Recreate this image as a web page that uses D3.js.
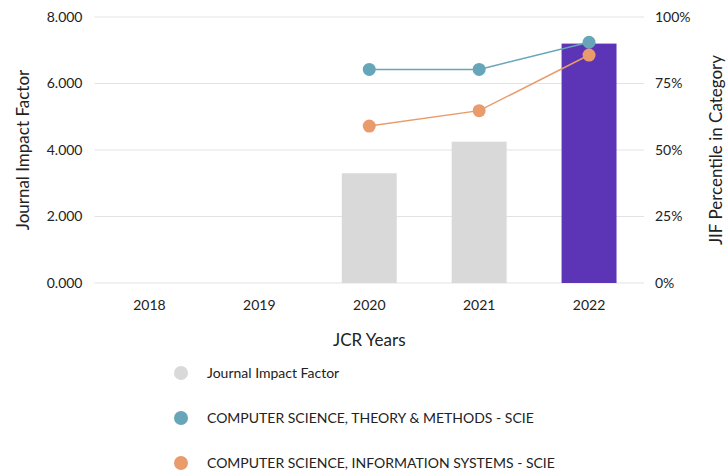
<!DOCTYPE html>
<html>
<head>
<meta charset="utf-8">
<script src="https://cdn.jsdelivr.net/npm/d3@7"></script>
<style>
  body { margin: 0; background: #fff; }
  text { font-family: "Source Sans Pro", Lato, "Open Sans", sans-serif; fill: #222; }
</style>
</head>
<body>
<div id="chart"></div>
<script>
var years = ["2018", "2019", "2020", "2021", "2022"];
var jif = [null, null, 3.3, 4.25, 7.2];
var theoryPct = [null, null, 80.3, 80.3, 90.5];
var infoSysPct = [null, null, 59.0, 64.8, 85.7];
var jifTicks = [0, 2, 4, 6, 8];
var pctTicks = [0, 25, 50, 75, 100];
var legendLabels = [
  "Journal Impact Factor",
  "COMPUTER SCIENCE, THEORY & METHODS - SCIE",
  "COMPUTER SCIENCE, INFORMATION SYSTEMS - SCIE"
];

var W = 728, H = 474;
var margin = { top: 17, right: 84, bottom: 191, left: 94.5 };
var width = W - margin.left - margin.right,
  height = H - margin.top - margin.bottom;

var colors = { bar: "#d9d9d9", last: "#5b35b5", theory: "#66a6b8", info: "#e99b6b" };

var svg = d3.select("#chart").append("svg")
  .attr("width", W).attr("height", H);
var g = svg.append("g")
  .attr("transform", "translate(" + margin.left + "," + margin.top + ")");

var x = d3.scaleBand().domain(years).range([0, width])
  .paddingInner(0.5).paddingOuter(0.25);
var y = d3.scaleLinear().domain([0, 8]).range([height, 0]);
var y2 = d3.scaleLinear().domain([0, 100]).range([height, 0]);

// grid
g.selectAll(".grid").data(jifTicks).enter().append("line")
  .attr("x1", 0).attr("x2", width)
  .attr("y1", function (d) { return y(d); })
  .attr("y2", function (d) { return y(d); })
  .attr("stroke", "#e3e3e3").attr("stroke-width", 1);

// left axis
var left = g.append("g")
  .call(d3.axisLeft(y).tickValues(jifTicks).tickSize(0).tickPadding(12)
    .tickFormat(function (d) { return d3.format(".3f")(d); }));
left.select(".domain").remove();
left.selectAll("text").style("font-size", "14px").attr("fill", "#222");

// right axis
var right = g.append("g")
  .attr("transform", "translate(" + width + ",0)")
  .call(d3.axisRight(y2).tickValues(pctTicks).tickSize(0).tickPadding(11)
    .tickFormat(function (d) { return d + "%"; }));
right.select(".domain").remove();
right.selectAll("text").style("font-size", "14px").attr("fill", "#222");

// bottom axis
var bottom = g.append("g")
  .attr("transform", "translate(0," + height + ")")
  .call(d3.axisBottom(x).tickSize(0).tickPadding(17));
bottom.select(".domain").remove();
bottom.selectAll("text").style("font-size", "14px").attr("fill", "#222");

// bars
var barData = years.map(function (d, i) { return { year: d, v: jif[i] }; })
  .filter(function (d) { return d.v != null; });
g.selectAll(".bar").data(barData).enter().append("rect")
  .attr("x", function (d) { return x(d.year); })
  .attr("y", function (d) { return y(d.v); })
  .attr("width", x.bandwidth())
  .attr("height", function (d) { return height - y(d.v); })
  .attr("fill", function (d, i) { return i === barData.length - 1 ? colors.last : colors.bar; });

// lines
function drawSeries(vals, color) {
  var pts = years.map(function (d, i) { return { year: d, v: vals[i] }; })
    .filter(function (d) { return d.v != null; });
  var line = d3.line()
    .x(function (d) { return x(d.year) + x.bandwidth() / 2; })
    .y(function (d) { return y2(d.v); });
  g.append("path").datum(pts)
    .attr("d", line).attr("fill", "none")
    .attr("stroke", color).attr("stroke-width", 1.5);
  g.selectAll(null).data(pts).enter().append("circle")
    .attr("cx", function (d) { return x(d.year) + x.bandwidth() / 2; })
    .attr("cy", function (d) { return y2(d.v); })
    .attr("r", 6.5).attr("fill", color);
}
drawSeries(theoryPct, colors.theory);
drawSeries(infoSysPct, colors.info);

// axis titles
svg.append("text")
  .attr("transform", "translate(29," + (margin.top + height / 2) + ") rotate(-90)")
  .attr("text-anchor", "middle").style("font-size", "17px")
  .text("Journal Impact Factor");
svg.append("text")
  .attr("transform", "translate(722," + (margin.top + height / 2) + ") rotate(-90)")
  .attr("text-anchor", "middle").style("font-size", "17px")
  .text("JIF Percentile in Category");
svg.append("text")
  .attr("x", margin.left + width / 2).attr("y", 346)
  .attr("text-anchor", "middle").style("font-size", "17px")
  .text("JCR Years");

// legend
var legendColors = [colors.bar, colors.theory, colors.info];
var leg = svg.selectAll(".leg").data(legendLabels).enter().append("g")
  .attr("transform", function (d, i) { return "translate(181," + (373 + i * 45) + ")"; });
leg.append("circle").attr("r", 7)
  .attr("fill", function (d, i) { return legendColors[i]; });
leg.append("text").attr("x", 26).attr("dy", "0.35em")
  .style("font-size", "14px").text(function (d) { return d; });
</script>
</body>
</html>
